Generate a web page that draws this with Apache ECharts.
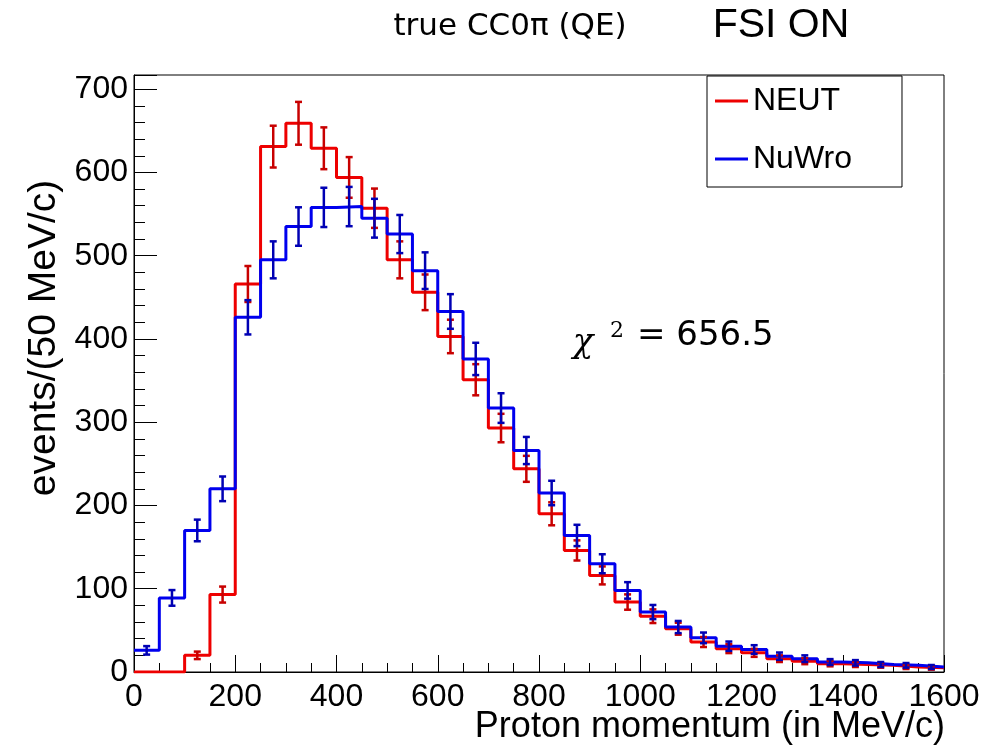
<!DOCTYPE html>
<html>
<head>
<meta charset="utf-8">
<script src="https://cdn.jsdelivr.net/npm/echarts@6/dist/echarts.min.js"></script>
<style>html,body{margin:0;padding:0;background:#fff}#c{width:1003px;height:750px}</style>
</head>
<body>
<div id="c"></div>
<script>
// ---- data ----
const binEdges = [0,50,100,150,200,250,300,350,400,450,500,550,600,650,700,750,800,850,900,950,1000,1050,1100,1150,1200,1250,1300,1350,1400,1450,1500,1550,1600];
const neutValues  = [0,0,20,93,466,631,659,629,594,557,495,456,403,351,293,244,190,146,116,84,67,52,36,28,23,16,13,10,9,8,6,5];
const neutErrors  = [0,0,4.5,9.6,21.6,25.1,25.7,25.1,24.4,23.6,22.2,21.4,20.1,18.7,17.1,15.6,13.8,12.1,10.8,9.2,8.2,7.2,6.0,5.3,4.8,4.0,3.6,3.2,3.0,2.8,2.4,2.2];
const nuwroValues = [26,89,170,220,426,495,535,558,559,545,526,482,433,376,317,266,215,164,130,98,72,54,41,31,27,19,16,12,11,9,8,6];
const nuwroErrors = [5.1,9.4,13.0,14.8,20.6,22.2,23.1,23.6,23.6,23.3,22.9,22.0,20.8,19.4,17.8,16.3,14.7,12.8,11.4,9.9,8.5,7.3,6.4,5.6,5.2,4.4,4.0,3.5,3.3,3.0,2.8,2.4];
const seriesNames = ['NEUT', 'NuWro'];
const titleText = 'true CC0\u03c0 (QE)';
const tagText = 'FSI ON';
const chiValue = '656.5';
const xAxisTitle = 'Proton momentum (in MeV/c)';
const yAxisTitle = 'events/(50 MeV/c)';

// ---- build ----
const FONT = "'Liberation Sans', Arial, Helvetica, sans-serif";
const WIDE = "'DejaVu Sans', 'Liberation Sans', sans-serif";
const RED = '#ee0000', RED_E = '#c80000';
const BLUE = '#0000ee', BLUE_E = '#0000b4';

function stepData(values) {
  return binEdges.map((e, i) => [e, values[Math.min(i, values.length - 1)]]);
}
function errData(values, errs) {
  return values.map((v, i) => [(binEdges[i] + binEdges[i + 1]) / 2, v, errs[i]]);
}
function errRender(color) {
  return function (params, api) {
    const x = api.value(0), v = api.value(1), e = api.value(2);
    if (!(e > 0)) return null;
    const t = api.coord([x, v + e]);
    const b = api.coord([x, v - e]);
    const c = 3.5;
    const st = { stroke: color, lineWidth: 2.5 };
    return {
      type: 'group',
      children: [
        { type: 'line', shape: { x1: t[0], y1: t[1], x2: b[0], y2: b[1] }, style: st },
        { type: 'line', shape: { x1: t[0] - c, y1: t[1], x2: t[0] + c, y2: t[1] }, style: st },
        { type: 'line', shape: { x1: b[0] - c, y1: b[1], x2: b[0] + c, y2: b[1] }, style: st }
      ]
    };
  };
}

const chart = echarts.init(document.getElementById('c'), null, { renderer: 'canvas' });
const option = {
  backgroundColor: '#fff',
  animation: false,
  grid: { left: 134, right: 59, top: 75, bottom: 78, show: true, borderColor: '#000', borderWidth: 1, backgroundColor: 'transparent' },
  legend: {
    data: seriesNames,
    orient: 'vertical',
    left: 707, top: 76,
    icon: 'rect', itemWidth: 33, itemHeight: 3, itemGap: 26,
    padding: [9, 50, 12, 8],
    borderColor: '#000', borderWidth: 1, backgroundColor: '#fff',
    selectedMode: false,
    textStyle: { fontSize: 32, color: '#000', fontFamily: FONT }
  },
  xAxis: {
    type: 'value', min: 0, max: 1600, interval: 200,
    axisLine: { show: true, onZero: false, lineStyle: { color: '#000', width: 1 } },
    axisTick: { show: true, inside: true, length: 17, lineStyle: { color: '#000', width: 1 } },
    minorTick: { show: true, splitNumber: 4, length: 9, lineStyle: { color: '#000', width: 1 } },
    splitLine: { show: false }, minorSplitLine: { show: false },
    axisLabel: { fontSize: 32, color: '#000', margin: 9, fontFamily: FONT, formatter: v => String(v) }
  },
  yAxis: [
    {
      type: 'value', min: 0, max: 717, interval: 100,
      axisLine: { show: true, onZero: false, lineStyle: { color: '#000', width: 1 } },
      axisTick: { show: true, inside: true, length: 23, lineStyle: { color: '#000', width: 1 } },
      splitLine: { show: false },
      axisLabel: { fontSize: 32, color: '#000', margin: 6, fontFamily: FONT,
        formatter: v => (v % 100 === 0 ? String(v) : '') }
    },
    {
      type: 'value', min: 0, max: 717, interval: 20, position: 'left',
      axisLine: { show: false },
      axisTick: { show: true, inside: true, length: 11, lineStyle: { color: '#000', width: 1 } },
      splitLine: { show: false },
      axisLabel: { show: false }
    }
  ],
  graphic: [
    { type: 'text', x: 510, y: 27, style: { text: titleText, font: '31px ' + WIDE, fill: '#000', textAlign: 'center', textVerticalAlign: 'middle' } },
    { type: 'text', x: 781, y: 26, style: { text: tagText, font: '41px ' + FONT, fill: '#000', textAlign: 'center', textVerticalAlign: 'middle' } },
    { type: 'text', x: 945, y: 727, style: { text: xAxisTitle, font: '36px ' + FONT, fill: '#000', textAlign: 'right', textVerticalAlign: 'middle' } },
    { type: 'text', x: 44, y: 338, rotation: Math.PI / 2, style: { text: yAxisTitle, font: '39px ' + FONT, fill: '#000', textAlign: 'center', textVerticalAlign: 'middle' } },
    { type: 'text', x: 583, y: 343, style: { text: '\u03c7', font: 'italic 34px "DejaVu Serif", "Liberation Serif", serif', fill: '#000', textAlign: 'center', textVerticalAlign: 'middle' } },
    { type: 'text', x: 617, y: 331, style: { text: '2', font: '22px "DejaVu Serif", "Liberation Serif", serif', fill: '#000', textAlign: 'center', textVerticalAlign: 'middle' } },
    { type: 'text', x: 637, y: 336, style: { text: '= ' + chiValue, font: '34px ' + WIDE, fill: '#000', textAlign: 'left', textVerticalAlign: 'middle' } }
  ],
  series: [
    { name: seriesNames[0], type: 'line', step: 'end', data: stepData(neutValues), showSymbol: false, symbol: 'none',
      lineStyle: { color: RED, width: 3 }, itemStyle: { color: RED }, z: 3 },
    { name: seriesNames[1], type: 'line', step: 'end', data: stepData(nuwroValues), showSymbol: false, symbol: 'none',
      lineStyle: { color: BLUE, width: 3 }, itemStyle: { color: BLUE }, z: 4 },
    { type: 'custom', renderItem: errRender(RED_E), data: errData(neutValues, neutErrors), encode: { x: 0, y: 1 }, z: 5 },
    { type: 'custom', renderItem: errRender(BLUE_E), data: errData(nuwroValues, nuwroErrors), encode: { x: 0, y: 1 }, z: 6 }
  ]
};
chart.setOption(option);
</script>
</body>
</html>
